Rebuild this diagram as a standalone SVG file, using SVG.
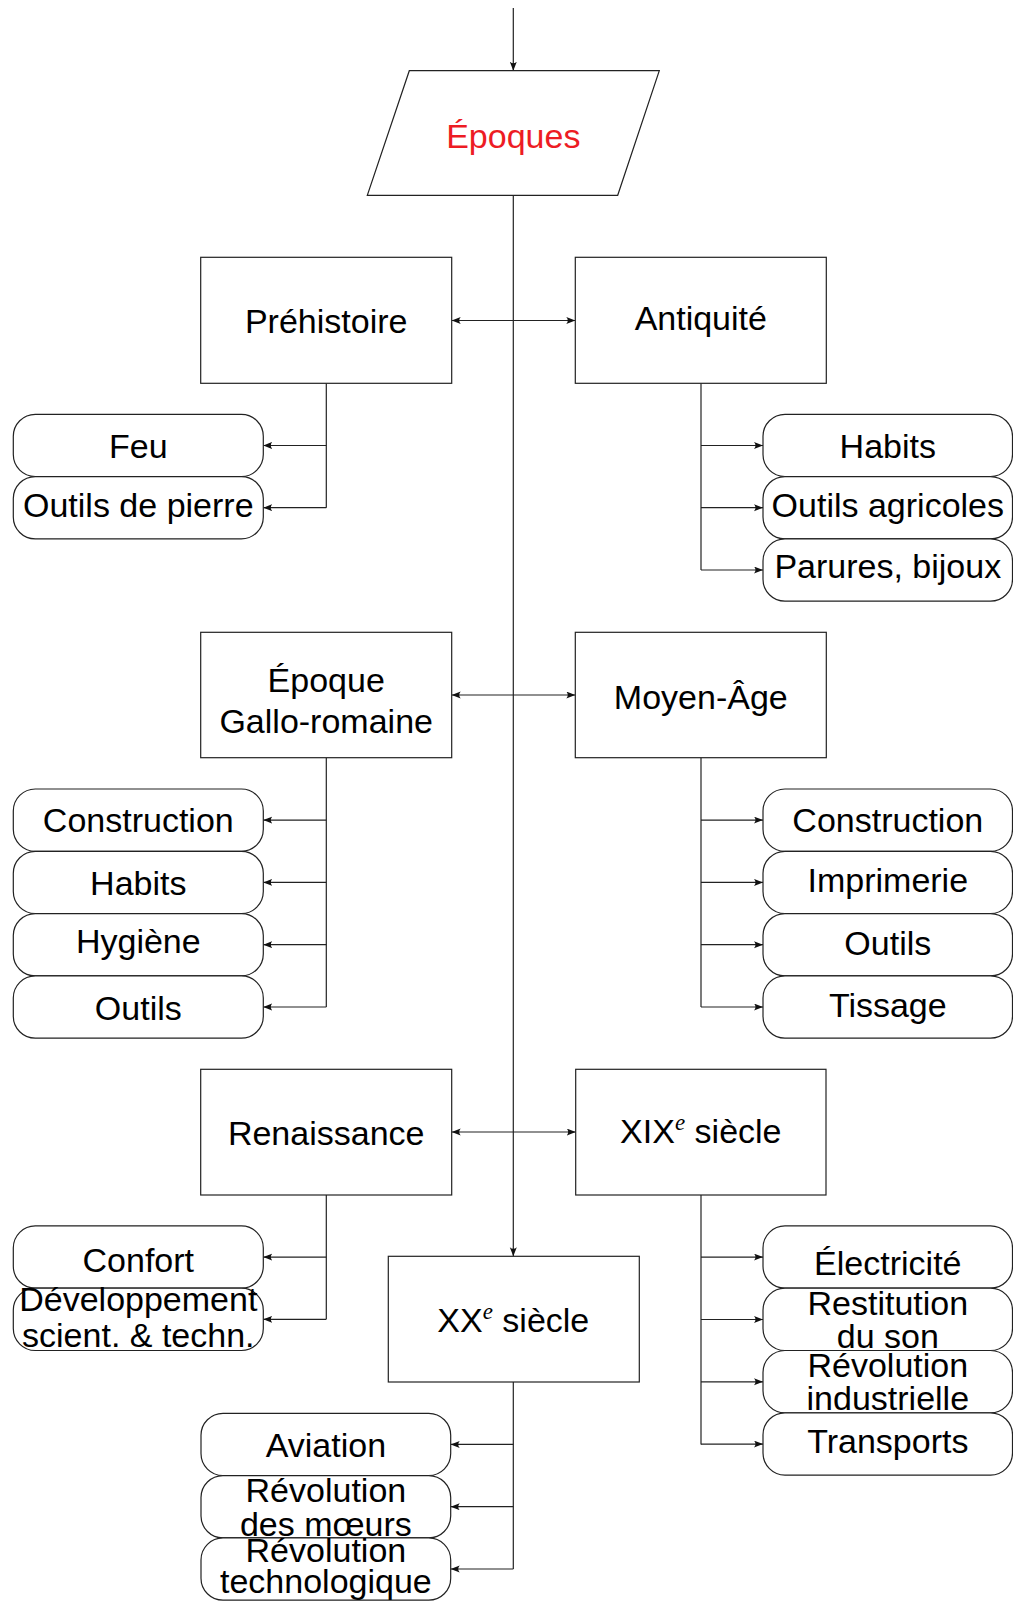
<svg xmlns="http://www.w3.org/2000/svg" width="1013" height="1601" viewBox="0 0 1013 1601">
<style>
text{font-family:"Liberation Sans",Arial,sans-serif;font-size:34px;fill:#000;text-anchor:middle}
.box{fill:#fff;stroke:#222;stroke-width:1.2}
.leaf{fill:#fff;stroke:#222;stroke-width:1.2}
.ln{fill:none;stroke:#222;stroke-width:1.2}
.arr{fill:none;stroke:#222;stroke-width:1.2;marker-end:url(#ah)}
.darr{fill:none;stroke:#222;stroke-width:1.2;marker-end:url(#ah);marker-start:url(#ahs)}
.sup{font-family:"Liberation Serif",serif;font-style:italic;font-size:23px}
.red{fill:#ed1c24}
</style>
<defs>
<marker id="ah" markerUnits="userSpaceOnUse" markerWidth="10" markerHeight="8" refX="9" refY="3.5" orient="auto"><path d="M0,0 Q3,3.5 0,7 L9,3.5 Z" fill="#111"/></marker>
<marker id="ahs" markerUnits="userSpaceOnUse" markerWidth="10" markerHeight="8" refX="9" refY="3.5" orient="auto-start-reverse"><path d="M0,0 Q3,3.5 0,7 L9,3.5 Z" fill="#111"/></marker>
</defs>
<g id="connectors">
<line class="arr" x1="513.3" y1="8" x2="513.3" y2="70.7"/>
<line class="arr" x1="513.3" y1="195.3" x2="513.3" y2="1256.3"/>
<line class="darr" x1="451.7" y1="320.5" x2="575.3" y2="320.5"/>
<line class="darr" x1="451.7" y1="695" x2="575.3" y2="695"/>
<line class="darr" x1="451.7" y1="1132" x2="575.7" y2="1132"/>
<line class="ln" x1="326.3" y1="383.3" x2="326.3" y2="507.7"/>
<line class="arr" x1="326.3" y1="445.5" x2="263.3" y2="445.5"/>
<line class="arr" x1="326.3" y1="507.7" x2="263.3" y2="507.7"/>
<line class="ln" x1="701" y1="383.3" x2="701" y2="570"/>
<line class="arr" x1="701" y1="445.5" x2="763" y2="445.5"/>
<line class="arr" x1="701" y1="507.7" x2="763" y2="507.7"/>
<line class="arr" x1="701" y1="570" x2="763" y2="570"/>
<line class="ln" x1="326.3" y1="757.7" x2="326.3" y2="1007"/>
<line class="arr" x1="326.3" y1="820.1" x2="263.3" y2="820.1"/>
<line class="arr" x1="326.3" y1="882.4" x2="263.3" y2="882.4"/>
<line class="arr" x1="326.3" y1="944.7" x2="263.3" y2="944.7"/>
<line class="arr" x1="326.3" y1="1007" x2="263.3" y2="1007"/>
<line class="ln" x1="701" y1="757.7" x2="701" y2="1007"/>
<line class="arr" x1="701" y1="820.1" x2="763" y2="820.1"/>
<line class="arr" x1="701" y1="882.4" x2="763" y2="882.4"/>
<line class="arr" x1="701" y1="944.7" x2="763" y2="944.7"/>
<line class="arr" x1="701" y1="1007" x2="763" y2="1007"/>
<line class="ln" x1="326.3" y1="1195" x2="326.3" y2="1319.3"/>
<line class="arr" x1="326.3" y1="1257.1" x2="263.3" y2="1257.1"/>
<line class="arr" x1="326.3" y1="1319.3" x2="263.3" y2="1319.3"/>
<line class="ln" x1="701" y1="1195" x2="701" y2="1444.4"/>
<line class="arr" x1="701" y1="1257.1" x2="763" y2="1257.1"/>
<line class="arr" x1="701" y1="1319.5" x2="763" y2="1319.5"/>
<line class="arr" x1="701" y1="1381.8" x2="763" y2="1381.8"/>
<line class="arr" x1="701" y1="1444.1" x2="763" y2="1444.1"/>
<line class="ln" x1="513.3" y1="1382" x2="513.3" y2="1569"/>
<line class="arr" x1="513.3" y1="1444.4" x2="450.7" y2="1444.4"/>
<line class="arr" x1="513.3" y1="1506.7" x2="450.7" y2="1506.7"/>
<line class="arr" x1="513.3" y1="1569" x2="450.7" y2="1569"/>
</g>
<g id="epoques"><path class="box" d="M409.3,70.7 H659.3 L617.7,195.3 H367.3 Z"/><text class="red" x="513.3" y="148.3">Époques</text></g>
<g id="prehistoire"><rect class="box" x="200.7" y="257.3" width="251" height="126"/><text x="326.2" y="333.3">Préhistoire</text></g>
<g id="antiquite"><rect class="box" x="575.3" y="257.3" width="251" height="126"/><text x="700.8" y="330">Antiquité</text></g>
<g id="feu"><rect class="leaf" x="13.3" y="414.3" width="250" height="62.3" rx="22"/><text x="138.3" y="458.3">Feu</text></g>
<g id="outils-pierre"><rect class="leaf" x="13.3" y="476.6" width="250" height="62.3" rx="22"/><text x="138.3" y="516.7">Outils de pierre</text></g>
<g id="habits-ant"><rect class="leaf" x="763" y="414.3" width="249.5" height="62.3" rx="22"/><text x="887.8" y="458.3">Habits</text></g>
<g id="outils-agricoles"><rect class="leaf" x="763" y="476.6" width="249.5" height="62.3" rx="22"/><text x="887.8" y="516.7">Outils agricoles</text></g>
<g id="parures"><rect class="leaf" x="763" y="538.9" width="249.5" height="62.3" rx="22"/><text x="887.8" y="578.3">Parures, bijoux</text></g>
<g id="gallo"><rect class="box" x="200.7" y="632.3" width="251" height="125.4"/><text x="326.2" y="691.7">Époque</text><text x="326.2" y="733.3">Gallo-romaine</text></g>
<g id="moyen-age"><rect class="box" x="575.3" y="632.3" width="251" height="125.4"/><text x="700.8" y="709.3">Moyen-Âge</text></g>
<g id="construction-g"><rect class="leaf" x="13.3" y="789" width="250" height="62.3" rx="22"/><text x="138.3" y="831.7">Construction</text></g>
<g id="habits-g"><rect class="leaf" x="13.3" y="851.3" width="250" height="62.3" rx="22"/><text x="138.3" y="895">Habits</text></g>
<g id="hygiene"><rect class="leaf" x="13.3" y="913.6" width="250" height="62.3" rx="22"/><text x="138.3" y="953.3">Hygiène</text></g>
<g id="outils-g"><rect class="leaf" x="13.3" y="975.9" width="250" height="62.3" rx="22"/><text x="138.3" y="1020">Outils</text></g>
<g id="construction-m"><rect class="leaf" x="763" y="789" width="249.5" height="62.3" rx="22"/><text x="887.8" y="832.3">Construction</text></g>
<g id="imprimerie"><rect class="leaf" x="763" y="851.3" width="249.5" height="62.3" rx="22"/><text x="887.8" y="891.7">Imprimerie</text></g>
<g id="outils-m"><rect class="leaf" x="763" y="913.6" width="249.5" height="62.3" rx="22"/><text x="887.8" y="955">Outils</text></g>
<g id="tissage"><rect class="leaf" x="763" y="975.9" width="249.5" height="62.3" rx="22"/><text x="887.8" y="1016.7">Tissage</text></g>
<g id="renaissance"><rect class="box" x="200.7" y="1069.3" width="251" height="125.7"/><text x="326.2" y="1145">Renaissance</text></g>
<g id="xix"><rect class="box" x="575.7" y="1069.3" width="250.3" height="125.7"/><text x="700.8" y="1143.3">XIX<tspan class="sup" dy="-13">e</tspan><tspan dy="13"> siècle</tspan></text></g>
<g id="confort"><rect class="leaf" x="13.3" y="1225.9" width="250" height="62.3" rx="22"/><text x="138.3" y="1271.7">Confort</text></g>
<g id="developpement"><rect class="leaf" x="13.3" y="1288.2" width="250" height="62.3" rx="22"/><text x="138.3" y="1310.5">Développement</text><text x="138.3" y="1347">scient. &amp; techn.</text></g>
<g id="electricite"><rect class="leaf" x="763" y="1225.9" width="249.5" height="62.3" rx="22"/><text x="887.8" y="1275">Électricité</text></g>
<g id="restitution"><rect class="leaf" x="763" y="1288.2" width="249.5" height="62.3" rx="22"/><text x="887.8" y="1315">Restitution</text><text x="887.8" y="1348.3">du son</text></g>
<g id="rev-industrielle"><rect class="leaf" x="763" y="1350.5" width="249.5" height="62.3" rx="22"/><text x="887.8" y="1376.7">Révolution</text><text x="887.8" y="1410">industrielle</text></g>
<g id="transports"><rect class="leaf" x="763" y="1412.8" width="249.5" height="62.3" rx="22"/><text x="887.8" y="1453.3">Transports</text></g>
<g id="xx"><rect class="box" x="388.3" y="1256.3" width="251" height="125.7"/><text x="513.3" y="1331.7">XX<tspan class="sup" dy="-13">e</tspan><tspan dy="13"> siècle</tspan></text></g>
<g id="aviation"><rect class="leaf" x="201" y="1413.3" width="249.7" height="62.3" rx="22"/><text x="325.9" y="1456.7">Aviation</text></g>
<g id="rev-moeurs"><rect class="leaf" x="201" y="1475.6" width="249.7" height="62.3" rx="22"/><text x="325.9" y="1501.7">Révolution</text><text x="325.9" y="1536">des mœurs</text></g>
<g id="rev-techno"><rect class="leaf" x="201" y="1537.9" width="249.7" height="62.3" rx="22"/><text x="325.9" y="1561.7">Révolution</text><text x="325.9" y="1593.3">technologique</text></g>
</svg>
